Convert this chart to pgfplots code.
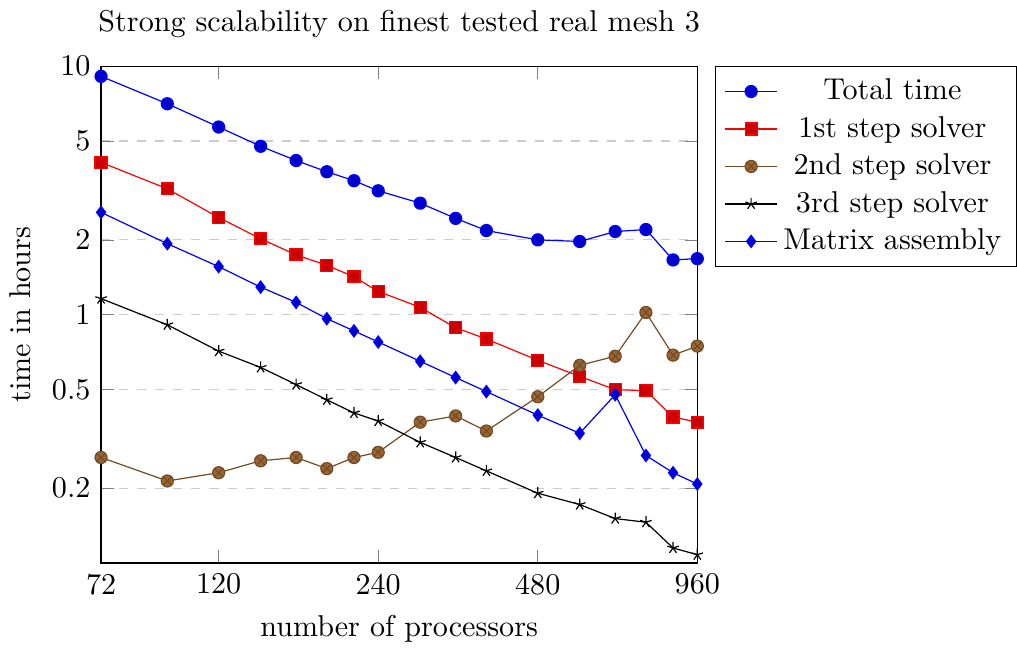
\documentclass[border=0pt]{standalone}
\usepackage{pgfplots}
\pgfplotsset{compat=1.18}
\begin{document}
\begin{tikzpicture}
\begin{loglogaxis}[
  scale only axis,
  width=198pt, height=165pt,
  title={Strong scalability on finest tested real mesh 3},
  xlabel={number of processors},
  ylabel={time in hours},
  xmin=72, xmax=960, ymin=0.1, ymax=10,
  xtick={72,120,240,480,960},
  xticklabels={72,120,240,480,960},
  ytick={0.2,0.5,1,2,5,10},
  yticklabels={0.2,0.5,1,2,5,10},
  minor xtick={}, minor ytick={},
  ymajorgrids,
  major grid style={dashed, gray!40},
  legend pos=outer north east,
  legend cell align=center,
]
% total time
\addplot coordinates {
(72,9.1) (96,7.06) (120,5.69) (144,4.76) (168,4.17) (192,3.76) (216,3.46) (240,3.15)
(288,2.81) (336,2.44) (384,2.18) (480,2.00) (576,1.97) (672,2.16) (768,2.20) (864,1.66) (960,1.68)
};
% 1st step
\addplot coordinates {
(72,4.10) (96,3.21) (120,2.46) (144,2.02) (168,1.74) (192,1.58) (216,1.42) (240,1.24)
(288,1.07) (336,0.885) (384,0.798) (480,0.655) (576,0.564) (672,0.499) (768,0.494) (864,0.387) (960,0.369)
};
% 2nd step
\addplot coordinates {
(72,0.266) (96,0.214) (120,0.231) (144,0.258) (168,0.266) (192,0.240) (216,0.266) (240,0.279)
(288,0.369) (336,0.391) (384,0.340) (480,0.467) (576,0.625) (672,0.680) (768,1.02) (864,0.687) (960,0.747)
};
% 3rd step
\addplot coordinates {
(72,1.16) (96,0.91) (120,0.713) (144,0.613) (168,0.523) (192,0.454) (216,0.402) (240,0.373)
(288,0.306) (336,0.266) (384,0.235) (480,0.191) (576,0.172) (672,0.151) (768,0.146) (864,0.115) (960,0.108)
};
% matrix assembly
\addplot coordinates {
(72,2.58) (96,1.93) (120,1.56) (144,1.29) (168,1.12) (192,0.963) (216,0.860) (240,0.776)
(288,0.649) (336,0.558) (384,0.490) (480,0.394) (576,0.333) (672,0.476) (768,0.271) (864,0.231) (960,0.208)
};
\legend{Total time, 1st step solver, 2nd step solver, 3rd step solver, Matrix assembly}
\end{loglogaxis}
\end{tikzpicture}
\end{document}
